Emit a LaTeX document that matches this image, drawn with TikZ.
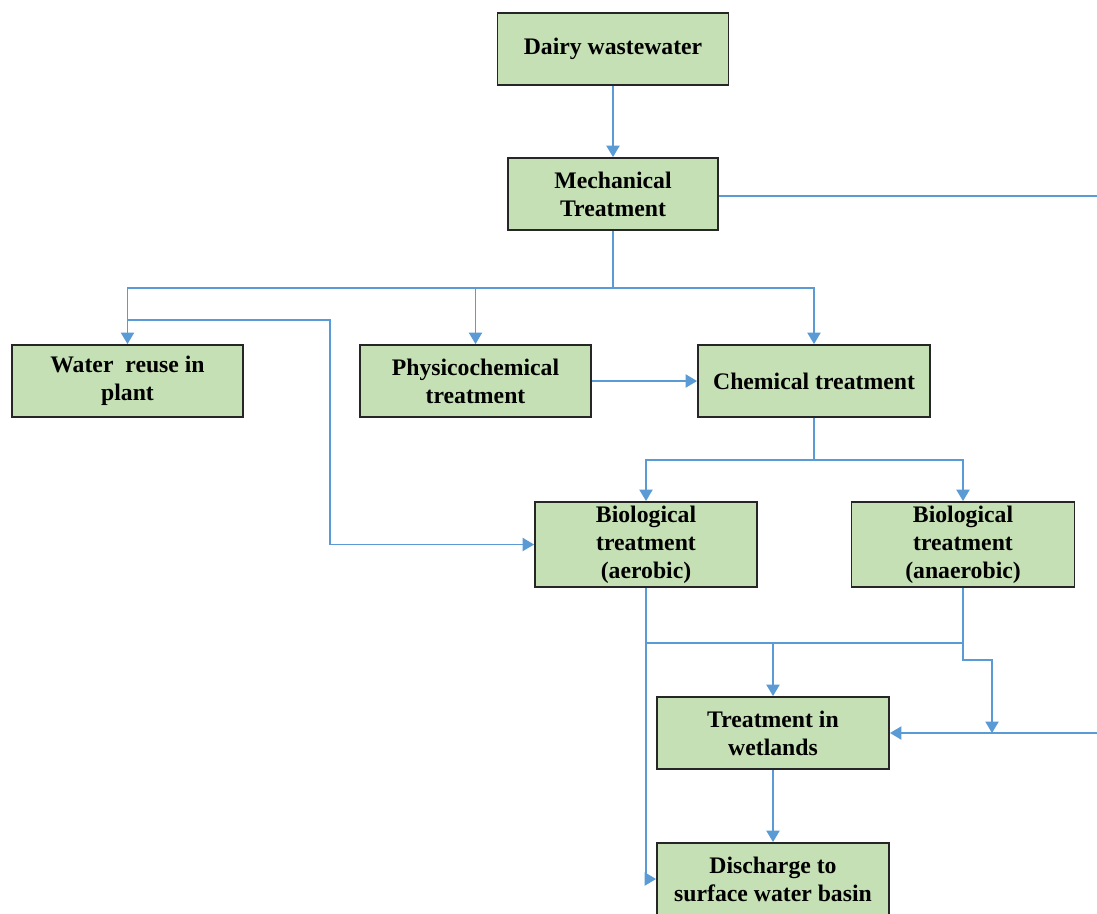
\documentclass[tikz,border=0pt]{standalone}
\usepackage{fontspec}
\setmainfont{Liberation Serif}
\usetikzlibrary{arrows.meta}
\definecolor{boxfill}{HTML}{C5E0B4}
\definecolor{boxline}{HTML}{262626}
\definecolor{conn}{HTML}{5B9BD5}
\begin{document}
\begin{tikzpicture}[x=0.02cm,y=-0.02cm,
  proc/.style={draw=boxline,line width=1.1pt,fill=boxfill,inner sep=0pt,align=center,
    font=\fontsize{13.5}{16}\selectfont\bfseries},
  link/.style={draw=conn,line width=0.9pt},
  arr/.style={link,-{Triangle[width=7.5pt,length=6.5pt]}}]
\useasboundingbox (0,0) rectangle (1097,913);
\clip (0,0) rectangle (1097,913);
\fill[white] (0,0) rectangle (1097,913);
% nodes
\node[proc,minimum width=231*0.02cm,minimum height=72*0.02cm] (dairy) at (613,49) {Dairy wastewater};
\node[proc,minimum width=210*0.02cm,minimum height=72*0.02cm] (mech) at (613,194) {Mechanical\\Treatment};
\node[proc,minimum width=231*0.02cm,minimum height=72*0.02cm] (reuse) at (127.5,381) {Water\enspace reuse in\\plant};
\node[proc,minimum width=231*0.02cm,minimum height=72*0.02cm] (physico) at (475.5,381) {Physicochemical\\treatment};
\node[proc,minimum width=232*0.02cm,minimum height=72*0.02cm] (chem) at (814,381) {Chemical treatment};
\node[proc,minimum width=222*0.02cm,minimum height=85*0.02cm] (aer) at (646,544.5) {Biological\\treatment\\(aerobic)};
\node[proc,minimum width=223*0.02cm,minimum height=85*0.02cm] (anaer) at (963,544.5) {Biological\\treatment\\(anaerobic)};
\node[proc,minimum width=232*0.02cm,minimum height=72*0.02cm] (wet) at (773,733) {Treatment in\\wetlands};
\node[proc,minimum width=232*0.02cm,minimum height=72*0.02cm] (disch) at (773,879) {Discharge to\\surface water basin};
% coordinates
\coordinate (j1) at (613,288);
\coordinate (r1) at (127,320);
\coordinate (rb) at (330,320);
\coordinate (j2) at (814,460);
\coordinate (j3) at (646,643);
\coordinate (j4) at (963,643);
\coordinate (e1) at (963,660);
\coordinate (e2) at (992,660);
\coordinate (e3) at (992,733);
\coordinate (edgeM) at (1097,196);
\coordinate (edgeW) at (1097,733);
% connectors
\draw[arr] (dairy) -- (mech);
\draw[link] (mech.east |- edgeM) -- (edgeM);
\draw[link] (mech.south) -- (j1);
\draw[arr] (j1) -| (reuse.north);
\draw[arr] (j1) -| (chem.north);
\draw[arr] (j1 -| physico.north) -- (physico.north);
\draw[arr] (physico) -- (chem);
\draw[arr] (r1) -- (rb) |- (aer.west);
\draw[link] (chem.south) -- (j2);
\draw[arr] (j2) -| (aer.north);
\draw[arr] (j2) -| (anaer.north);
\draw[arr] (aer.south) |- (disch.west);
\draw[link] (j3) -- (j4);
\draw[arr] (anaer.south) -- (j4) -- (e1) -- (e2) -- (e3);
\draw[arr] (j3 -| wet.north) -- (wet.north);
\draw[arr] (edgeW) -- (wet.east);
\draw[arr] (wet) -- (disch);
\end{tikzpicture}
\end{document}
